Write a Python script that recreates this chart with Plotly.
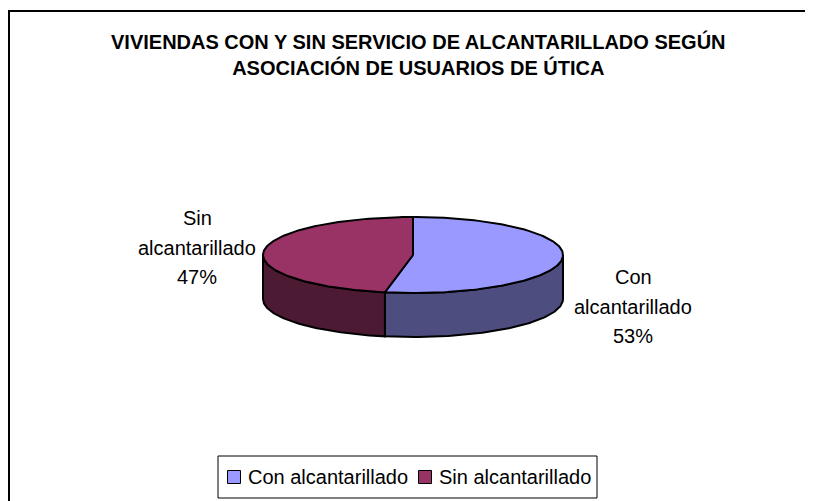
import numpy as np
import plotly.graph_objects as go

# ---- data ----
categories = ["Con alcantarillado", "Sin alcantarillado"]
label_lines = [["Con", "alcantarillado"], ["Sin", "alcantarillado"]]
values = [53, 47]
top_colors = ["#9999FF", "#993366"]
side_colors = ["#4D4D80", "#4D1A33"]
title_text = "VIVIENDAS CON Y SIN SERVICIO DE ALCANTARILLADO SEGÚN<br>ASOCIACIÓN DE USUARIOS DE ÚTICA"

W, H = 813, 501
OFF = 8  # page body margin: axes are set so 1 unit = 1 window pixel
FONT = "Liberation Sans, Arial, sans-serif"

# pie geometry (window-pixel coordinates on hidden axes)
cx, cy, rx, ry, depth = 413, 255, 150, 38, 44

vals = np.array(values, dtype=float)
frac = vals / vals.sum()
ends = np.cumsum(frac) * 360.0
starts = ends - frac * 360.0


def pts(thetas, dy=0.0):
    t = np.radians(thetas)
    return cx + rx * np.sin(t), cy - ry * np.cos(t) + dy


fig = go.Figure()

# side walls (front half: 90..270 degrees clockwise from top)
for i in range(len(values)):
    a, b = max(starts[i], 90.0), min(ends[i], 270.0)
    if a < b:
        th = np.linspace(a, b, 80)
        xt, yt = pts(th)
        xb, yb = pts(th[::-1], depth)
        xs = np.concatenate([xt, xb, xt[:1]])
        ys = np.concatenate([yt, yb, yt[:1]])
        fig.add_trace(go.Scatter(x=xs, y=ys, mode="lines", fill="toself",
                                 fillcolor=side_colors[i],
                                 line=dict(color="black", width=2),
                                 hoverinfo="skip", showlegend=False))

# top faces
for i in range(len(values)):
    th = np.linspace(starts[i], ends[i], 160)
    xa, ya = pts(th)
    xs = np.concatenate([[cx], xa, [cx]])
    ys = np.concatenate([[cy], ya, [cy]])
    fig.add_trace(go.Scatter(x=xs, y=ys, mode="lines", fill="toself",
                             fillcolor=top_colors[i],
                             line=dict(color="black", width=2),
                             hoverinfo="skip", showlegend=False))

annotations = [dict(x=418, y=54, xref="x", yref="y",
                    text="<b>" + title_text.replace("<br>", "</b><br><b>") + "</b>",
                    showarrow=False, font=dict(family=FONT, size=20, color="black"),
                    xanchor="center", yanchor="middle", align="center")]

# data labels
label_pos = [(633, 277), (197, 218)]
for i in range(len(values)):
    lines = label_lines[i] + [f"{int(round(frac[i] * 100))}%"]
    x0, y0 = label_pos[i]
    for k, ln in enumerate(lines):
        annotations.append(dict(x=x0, y=y0 + k * 29.5, xref="x", yref="y", text=ln,
                                showarrow=False, font=dict(family=FONT, size=20, color="black"),
                                xanchor="center", yanchor="middle"))

# legend (drawn manually to match the compact boxed legend)
leg_y = 477
leg_sym_x = [234, 425]
for i, c in enumerate(categories):
    fig.add_trace(go.Scatter(x=[leg_sym_x[i]], y=[leg_y], mode="markers", name=c,
                             marker=dict(symbol="square", size=13, color=top_colors[i],
                                         line=dict(color="black", width=1)),
                             hoverinfo="skip", showlegend=False))
    annotations.append(dict(x=leg_sym_x[i] + 12, y=leg_y, xref="x", yref="y", text=c,
                            showarrow=False, font=dict(family=FONT, size=20, color="black"),
                            xanchor="left", yanchor="middle"))

fig.update_layout(
    width=W, height=H,
    margin=dict(l=0, r=0, t=0, b=0),
    paper_bgcolor="white", plot_bgcolor="white",
    xaxis=dict(range=[OFF, W + OFF], visible=False, fixedrange=True),
    yaxis=dict(range=[H + OFF, OFF], visible=False, fixedrange=True),
    annotations=annotations,
    shapes=[dict(type="rect", xref="x", yref="y", x0=9, y0=11, x1=W + 40, y1=H + 40,
                 line=dict(color="black", width=2), layer="below"),
            dict(type="rect", xref="x", yref="y", x0=218, y0=456, x1=597, y1=498,
                 line=dict(color="black", width=1), fillcolor="white", layer="below")],
    showlegend=False,
)

fig.write_html("out.html")
